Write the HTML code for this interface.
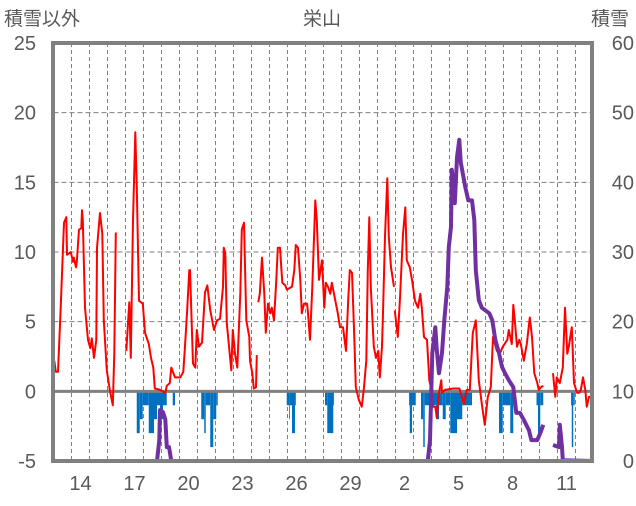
<!DOCTYPE html>
<html><head><meta charset="utf-8"><style>
body{margin:0;background:#fff;}
svg text{font-family:"Liberation Sans","Noto Sans CJK JP",sans-serif;fill:#595959;}
</style></head><body>
<svg id="chart" width="636" height="501" viewBox="0 0 636 501" xmlns="http://www.w3.org/2000/svg"></svg>
<script>
// Data (hours since start of day 13)
const redHours=[1,3,6,9,14,17,18,23,26,27,30,31,34,37,38,39,42,46,49,51,54,57,58,62,65,67,71,75,79,81,83,null,97,101,103,106,109,111,114,119,122,127,130,133,135,142,149,151,155,157,162,169,173,175,178,181,182,186,189,191,194,198,202,205,209,214,218,222,226,227,229,231,237,239,242,245,249,251,254,257,261,262,265,267,270,271,null,273,275,278,281,283,286,289,291,294,297,299,302,305,309,311,318,321,323,326,329,331,334,338,339,342,345,349,351,354,358,361,363,366,369,371,375,379,382,386,390,393,395,398,401,403,407,411,414,417,419,421,423,427,430,433,435,438,439,442,445,447,450,454,null,455,459,462,466,469,471,475,478,482,486,489,491,494,498,501,503,506,509,511,514,517,518,522,533,541,543,547,551,555,559,563,567,571,575,579,583,586,591,595,599,605,607,611,613,615,618,621,623,627,631,635,638,641,645,647,650,653,null,666,669,671,675,679,682,685,687,691,694,698,701,703,706,709,711,714,717];
const redValues=[2.2,1.4,1.4,5.3,12.1,12.5,9.8,10.0,9.3,9.6,8.9,9.3,11.6,11.7,13.0,12.3,6.0,3.7,3.1,3.8,2.4,3.7,10.3,12.8,11.3,5.1,1.5,0.1,-1.0,2.7,11.4,null,2.9,6.4,2.4,12.3,18.6,14.6,6.5,6.3,4.2,3.4,2.4,1.7,0.2,0.1,-0.1,0.4,0.6,1.7,1.0,1.0,1.4,3.0,5.6,8.7,8.7,2.0,1.7,4.4,3.2,3.5,7.1,7.6,5.8,4.4,5.1,5.2,7.5,10.3,9.9,4.9,1.5,4.4,2.7,1.7,7.0,11.6,12.1,5.1,3.9,2.2,1.3,0.2,0.3,2.6,null,6.4,7.0,9.6,7.0,4.2,6.3,5.6,6.0,5.1,8.0,10.3,10.3,7.8,7.6,7.3,7.5,8.7,10.5,10.3,8.0,5.6,6.3,6.3,5.8,3.7,7.5,13.7,12.3,8.0,9.4,6.0,7.8,7.5,7.0,7.8,6.7,5.6,4.6,4.6,2.9,6.7,8.7,8.5,3.9,0.3,-0.6,-1.1,0.3,2.2,8.7,12.5,7.5,3.2,2.4,2.9,1.0,3.2,5.1,11.1,15.3,11.1,8.9,7.5,null,5.8,3.9,6.7,11.3,13.2,9.4,8.9,8.0,6.5,6.0,7.0,6.0,3.9,3.7,0.8,0.3,-1.1,-1.1,-1.9,-0.1,0.8,-0.1,0.1,0.2,0.2,-0.1,-0.9,0.1,0.1,4.2,5.1,0.8,-0.9,-2.4,-0.4,0.3,3.9,2.9,2.7,3.2,3.7,4.4,3.4,6.2,5.1,3.2,3.7,3.4,2.2,3.4,5.3,3.9,1.3,0.6,0.1,0.3,0.4,null,1.3,-0.4,1.0,0.6,1.7,6.0,2.7,3.2,4.6,0.6,-0.1,-0.1,0.1,1.0,0.1,-1.1,-0.4,-0.4];
const snowHours=[0,85,null,93,138,141,142,146,149,151,154,157,499,502,505,509,511,514,518,521,525,527,530,531,535,538,541,543,549,553,558,561,563,567,571,581,585,589,594,598,602,607,613,617,622,627,634,637,645,649,653,null,666,674,675,678,679,720];
const snowValues=[0,0,null,0,0,3,7.3,7.0,6,2,2,0,0,3.0,15.5,19.2,15.9,12.6,15.5,20.2,25.0,30.7,33.6,41.8,37.0,43.6,46.1,42.8,39.3,37.4,37.4,34.6,27.4,23.1,22.0,21.2,20.2,17.4,15.5,13.5,12.6,11.6,10.6,6.9,6.9,5.9,4.4,3.0,3.0,4.0,5.2,null,2.3,2.0,5.2,2.0,0.1,0];
const barStart=[111,115,119,127,134,138,142,146,159,197,201,203,209,213,217,311,314,315,318,322,362,365,373,474,475,478,490,493,495,506,510,514,519,523,529,538,545,594,599,609,613,644,646,649,690,691,693];
const barEnd=[115,119,127,134,138,142,146,151,162,201,203,209,213,217,219,314,315,318,322,323,365,373,374,475,478,483,493,495,503,510,514,519,523,529,538,545,558,599,609,613,615,646,649,653,691,693,695];
const barValues=[-3,-2,-1,-3,-2,-1,-2,-1,-1,-2,-3,-1,-4,-2,-1,-1,-2,-1,-3,-1,-1,-3,-1,-1,-3,-1,-2,-4,-1,-1,-2,-1,-2,-1,-3,-2,-1,-3,-1,-3,-1,-1,-3,-1,-1,-4,-1];
const leftTicks=[25,20,15,10,5,0,-5];
const rightTicks=[60,50,40,30,20,10,0];
const dayLabels=["14","17","20","23","26","29","2","5","8","11"];
const dayLabelIdx=[1,4,7,10,13,16,19,22,25,28];

const svg=document.getElementById('chart');
const NS='http://www.w3.org/2000/svg';
const X0=53.5, PXD=18, YT=43, YB=461;
const xs=h=>X0+h*PXD/24;
const yl=v=>YB-(v+5)*(YB-YT)/30;
const yr=v=>YB-v*(YB-YT)/60;
function mk(t,a){const e=document.createElementNS(NS,t);for(const k in a)e.setAttribute(k,a[k]);svg.appendChild(e);return e;}
function txt(s,x,y,anchor,size){const e=mk('text',{x:x,y:y,'text-anchor':anchor,'font-size':size});e.textContent=s;return e;}

for(let d=1;d<30;d++){const x=X0+18+(d-1)*PXD;
 const g=mk('line',{x1:x,x2:x,y1:YT,y2:YB,stroke:'#808080','stroke-width':1,'stroke-dasharray':'4,3'});
 
 }
[20,15,10,5].forEach(v=>{const g=mk('line',{x1:X0,x2:592,y1:yl(v),y2:yl(v),stroke:'#808080','stroke-width':1,'stroke-dasharray':'5,3'});
 
 });

barValues.forEach((v,i)=>{const x1=xs(barStart[i]),x2=xs(barEnd[i]);
 const r=mk('rect',{x:x1,y:yl(0),width:Math.max(0.8,x2-x1),height:yl(v)-yl(0),fill:'#0070c0'});
 
 });

const z=mk('line',{x1:X0,x2:592,y1:yl(0),y2:yl(0),stroke:'#808080','stroke-width':3});



function pathOf(hs,vs,yf){let d='',pen=false;hs.forEach((h,i)=>{if(h===null||vs[i]===null){pen=false;return;}d+=(pen?'L':'M')+xs(h).toFixed(1)+','+yf(vs[i]).toFixed(1);pen=true;});return d;}
const red=mk('path',{d:pathOf(redHours,redValues,yl),fill:'none',stroke:'#ff0000','stroke-width':2,'stroke-linejoin':'round'});


const snow=mk('path',{d:pathOf(snowHours,snowValues,yr),fill:'none',stroke:'#7030a0','stroke-width':4,'stroke-linejoin':'round'});



const f=mk('path',{d:'M53,461 L53,43 L592,43 L592,461 Z',fill:'none',stroke:'#808080','stroke-width':4});



leftTicks.forEach(v=>{const t=txt(String(v),36,yl(v)+7,'end',20);
 
 });
rightTicks.forEach(v=>{const t=txt(String(v),634,yr(v)+7,'end',20);
 
 });
dayLabels.forEach((s,i)=>{const t=txt(s,X0+(dayLabelIdx[i]+0.5)*PXD,490,'middle',20);
 
 });
let t=txt('積雪以外',4,25,'start',19);


t=txt('積雪',610,25,'middle',19);


t=txt('栄山',322,25,'middle',19);


</script>
</body></html>
